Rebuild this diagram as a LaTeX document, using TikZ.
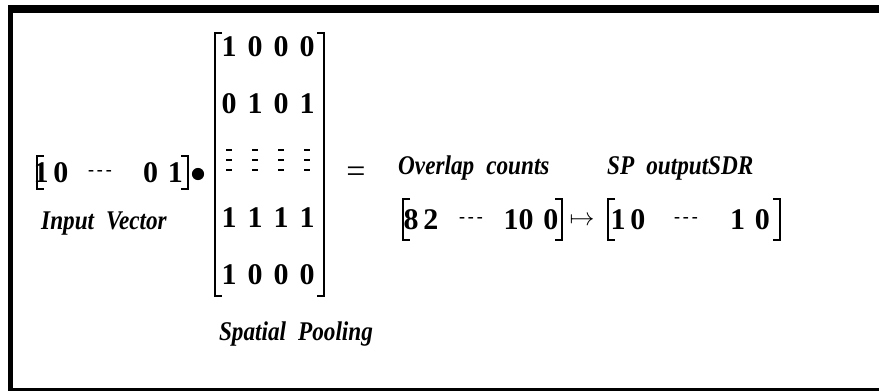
\documentclass[tikz,border=0pt]{standalone}
\usepackage{fontspec}
\setmainfont{Liberation Serif}
\newfontfamily\lblfont[FakeStretch=0.86]{Liberation Serif}
\tikzset{
  num/.style={font=\fontsize{30}{30}\selectfont\bfseries, inner sep=0pt},
  dashtxt/.style={font=\fontsize{18}{18}\selectfont\bfseries, inner sep=0pt},
  lbl/.style={font=\lblfont\fontsize{27}{27}\selectfont\bfseries\itshape, inner sep=0pt},
  brk/.style={line width=2.4pt},
}
\begin{document}
\begin{tikzpicture}[x=1pt,y=-1pt]
\useasboundingbox (0,0) rectangle (879,391);
% frame
\fill (8,5) rectangle (13,391);
\fill (8,5) rectangle (879,13);
\fill (8,388) rectangle (879,391);

% input vector
\node[num] (in1) at (51,173) {1\,0};
\node[dashtxt] (indots) at (100,173) {-\,-\,-};
\node[num] (in2) at (163,173) {0\,\,1};
\draw[brk] (44,156) -- (37,156) -- (37,189) -- (44,189);
\draw[brk] (181,156) -- (188,156) -- (188,189) -- (181,189);
\node[lbl] (inlbl) at (104,224) {Input\hspace{12pt}Vector};

% dot product
\node[circle, fill, inner sep=4.3pt] (dotp) at (198,174) {};

% spatial pooling matrix
\foreach \r/\y in {{1,0,0,0}/47, {0,1,0,1}/104, {1,1,1,1}/218, {1,0,0,0}/275}{
  \foreach \v [count=\c] in \r
    \node[num] (m\c\y) at (203+26*\c,\y) {\v};
}
\foreach \c in {1,...,4}{
  \foreach \d in {150,160,170}
    \draw[line width=1.8pt] (200+26*\c,\d) -- ++(6,0);
}
\draw[brk] (222,33) -- (215,33) -- (215,296) -- (222,296);
\draw[brk] (317,33) -- (324,33) -- (324,296) -- (317,296);
\node[lbl] (splbl) at (296,334) {Spatial\hspace{12pt}Pooling};

\node[num, font=\fontsize{34}{34}\selectfont] (eq) at (356,175) {=};

% overlap counts
\node[lbl, anchor=west] (ovlbl) at (398,168) {Overlap\hspace{12pt}counts};
\node[num] (ov1) at (421,220) {8\,2};
\node[dashtxt] (ovdots) at (471,220) {-\,-\,-};
\node[num] (ov2) at (531,220) {10\,\,0};
\draw[brk] (410,199) -- (403,199) -- (403,240) -- (410,240);
\draw[brk] (555,199) -- (562,199) -- (562,240) -- (555,240);

\node[num, font=\fontsize{34}{34}\selectfont] (mapsym) at (582,221) {$\mapsto$};

% SP output SDR
\node[lbl, anchor=west] (sdrlbl) at (607,168) {SP\hspace{12pt}outputSDR};
\node[num] (sd1) at (628,220) {1\,0};
\node[dashtxt] (sddots) at (686,220) {-\,-\,-};
\node[num] (sd2) at (750,220) {1\,\,0};
\draw[brk] (615,199) -- (608,199) -- (608,240) -- (615,240);
\draw[brk] (773,199) -- (780,199) -- (780,240) -- (773,240);
\end{tikzpicture}
\end{document}
